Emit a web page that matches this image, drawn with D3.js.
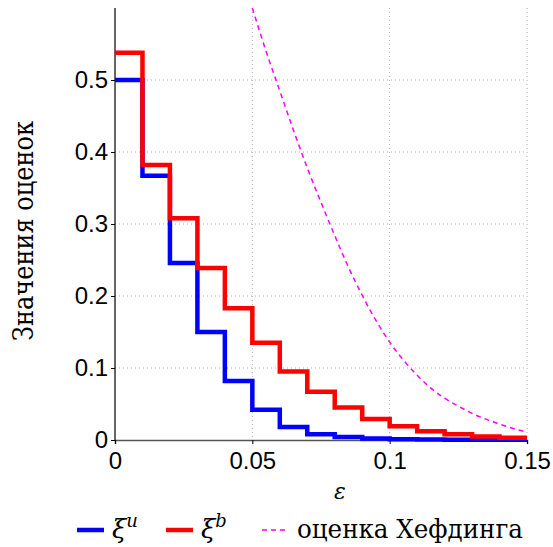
<!DOCTYPE html>
<html lang="ru">
<head>
<meta charset="utf-8">
<title>Значения оценок</title>
<script src="https://d3js.org/d3.v7.min.js"></script>
<style>
  body { margin: 0; background: #fff; }
  .tick text { font-family: "Liberation Sans", Arial, sans-serif; font-size: 24px; fill: #000; }
  text.serif { font-family: "DejaVu Serif", "Liberation Serif", serif; }
</style>
</head>
<body>
<div id="chart"></div>
<script>
// step edges (epsilon) and the two estimates
var epsSteps = [0, 0.01, 0.02, 0.03, 0.04, 0.05, 0.06, 0.07, 0.08, 0.09, 0.10, 0.11, 0.12, 0.13, 0.14, 0.15];
var xiU = [0.500, 0.367, 0.246, 0.150, 0.082, 0.042, 0.018, 0.008, 0.004, 0.002, 0.001, 0.0006, 0.0004, 0.0003, 0.0002, 0.0002];
var xiB = [0.538, 0.382, 0.308, 0.239, 0.183, 0.135, 0.095, 0.067, 0.045, 0.029, 0.019, 0.012, 0.008, 0.005, 0.003, 0.003];

// Hoeffding bound, sampled from the dashed curve
var hoefEps = [0.05, 0.055, 0.06, 0.065, 0.07, 0.075, 0.08, 0.085, 0.09, 0.095, 0.10, 0.105, 0.11, 0.115, 0.12, 0.125, 0.13, 0.135, 0.14, 0.145, 0.15];
var hoefVal = [0.600, 0.540, 0.485, 0.430, 0.378, 0.330, 0.284, 0.240, 0.201, 0.166, 0.136, 0.111, 0.090, 0.072, 0.058, 0.047, 0.037, 0.029, 0.022, 0.016, 0.011];

var xTicks = [0, 0.05, 0.1, 0.15];
var xTickLabels = ["0", "0.05", "0.1", "0.15"];
var yTicks = [0, 0.1, 0.2, 0.3, 0.4, 0.5];
var yTickLabels = ["0", "0.1", "0.2", "0.3", "0.4", "0.5"];

var W = 553, H = 547;
var margin = {top: 8, right: 26, bottom: 107, left: 115};
var width = W - margin.left - margin.right,
    height = H - margin.top - margin.bottom;

var x = d3.scaleLinear().domain([0, 0.15]).range([0, width]);
var y = d3.scaleLinear().domain([0, 0.6]).range([height, 0]);

var svg = d3.select("#chart").append("svg")
    .attr("width", W)
    .attr("height", H);
var g = svg.append("g")
    .attr("transform", "translate(" + margin.left + "," + margin.top + ")");

// Dotted grid
g.selectAll(".gy").data(yTicks.slice(1)).enter().append("line")
    .attr("x1", 0).attr("x2", width)
    .attr("y1", function(d) { return y(d); }).attr("y2", function(d) { return y(d); })
    .attr("stroke", "#b0b0b0").attr("stroke-width", 1).attr("stroke-dasharray", "1,3");
g.selectAll(".gx").data(xTicks.slice(1)).enter().append("line")
    .attr("x1", function(d) { return x(d); }).attr("x2", function(d) { return x(d); })
    .attr("y1", 0).attr("y2", height)
    .attr("stroke", "#b0b0b0").attr("stroke-width", 1).attr("stroke-dasharray", "1,3");

// Axes
var xAxis = d3.axisBottom(x).tickValues(xTicks).tickSize(4).tickPadding(8)
    .tickFormat(function(d, i) { return xTickLabels[i]; });
var yAxis = d3.axisLeft(y).tickValues(yTicks).tickSize(4).tickPadding(3)
    .tickFormat(function(d, i) { return yTickLabels[i]; });

var gx = g.append("g").attr("transform", "translate(0," + height + ")").call(xAxis);
gx.select(".domain").attr("stroke", "#555").attr("stroke-width", 1.5);
var gy = g.append("g").call(yAxis);
gy.select(".domain").attr("d", "M0," + height + "V0").attr("stroke", "#000").attr("stroke-width", 1.2);

// Step lines
var step = d3.line()
    .x(function(d) { return x(d[0]); })
    .y(function(d) { return y(d[1]); })
    .curve(d3.curveStepAfter);

g.append("path")
    .attr("d", step(d3.zip(epsSteps, xiU)))
    .attr("fill", "none").attr("stroke", "#0000ff").attr("stroke-width", 4.5);
g.append("path")
    .attr("d", step(d3.zip(epsSteps, xiB)))
    .attr("fill", "none").attr("stroke", "#ff0000").attr("stroke-width", 4.5);

// Hoeffding curve
var smooth = d3.line()
    .x(function(d) { return x(d[0]); })
    .y(function(d) { return y(d[1]); })
    .curve(d3.curveMonotoneX);
g.append("path")
    .attr("d", smooth(d3.zip(hoefEps, hoefVal)))
    .attr("fill", "none").attr("stroke", "#ff00ff").attr("stroke-width", 1.5)
    .attr("stroke-dasharray", "5,4");

// Axis labels
svg.append("text").attr("class", "serif")
    .attr("transform", "translate(33,231) rotate(-90)")
    .attr("text-anchor", "middle")
    .attr("textLength", 220).attr("lengthAdjust", "spacingAndGlyphs")
    .style("font-size", "28px")
    .text("Значения оценок");
svg.append("text").attr("class", "serif")
    .attr("x", 340).attr("y", 499)
    .attr("text-anchor", "middle")
    .style("font-size", "22px").style("font-style", "italic")
    .text("ε");

// Legend
var legend = [
  {x: 77, color: "#0000ff", w: 4.5, dash: null, sub: "u"},
  {x: 166, color: "#ff0000", w: 4.5, dash: null, sub: "b"},
  {x: 262, color: "#ff00ff", w: 1.5, dash: "5,4", label: "оценка Хефдинга"}
];
var ly = 530;
legend.forEach(function(l) {
  svg.append("line")
      .attr("x1", l.x).attr("x2", l.x + 27).attr("y1", ly).attr("y2", ly)
      .attr("stroke", l.color).attr("stroke-width", l.w)
      .attr("stroke-dasharray", l.dash);
  var t = svg.append("text").attr("class", "serif")
      .attr("x", l.x + 35).attr("y", ly + 8)
      .style("font-size", "26px");
  if (l.sub) {
    t.append("tspan").style("font-style", "italic").text("ξ");
    t.append("tspan").attr("dy", -11).style("font-size", "18px").style("font-style", "italic").text(l.sub);
  } else {
    t.attr("textLength", 226).attr("lengthAdjust", "spacingAndGlyphs").text(l.label);
  }
});
</script>
</body>
</html>
